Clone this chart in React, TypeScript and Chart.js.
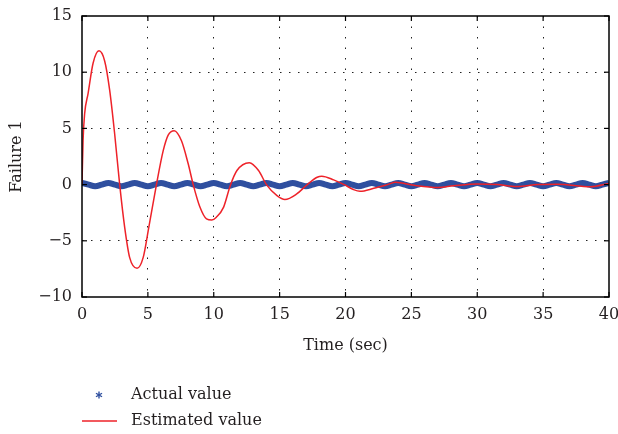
import { useEffect, useRef } from "react";
import { Chart, registerables } from "chart.js";

Chart.register(...registerables);

const FONT = "'DejaVu Serif', 'Liberation Serif', serif";
const TEXT_COLOR = "#231f20";
const RED = "#ee2229";
const BLUE = "#2f4f9f";

const xTitle = "Time (sec)";
const yTitle = "Failure 1";
const legendLabels = ["Actual value", "Estimated value"];

const xRange = [0, 40];
const yRange = [-10, 15];
const tickStep = 5;

// Actual value: small ripple around zero, sampled every 0.5 s
const actualTime = [
  0, 0.5, 1, 1.5, 2, 2.5, 3, 3.5, 4, 4.5, 5, 5.5, 6, 6.5, 7, 7.5, 8, 8.5, 9, 9.5,
  10, 10.5, 11, 11.5, 12, 12.5, 13, 13.5, 14, 14.5, 15, 15.5, 16, 16.5, 17, 17.5, 18, 18.5, 19, 19.5,
  20, 20.5, 21, 21.5, 22, 22.5, 23, 23.5, 24, 24.5, 25, 25.5, 26, 26.5, 27, 27.5, 28, 28.5, 29, 29.5,
  30, 30.5, 31, 31.5, 32, 32.5, 33, 33.5, 34, 34.5, 35, 35.5, 36, 36.5, 37, 37.5, 38, 38.5, 39, 39.5, 40,
];
const actualValue = [
  0.15, 0, -0.15, 0, 0.15, 0, -0.15, 0, 0.15, 0, -0.15, 0, 0.15, 0, -0.15, 0, 0.15, 0, -0.15, 0,
  0.15, 0, -0.15, 0, 0.15, 0, -0.15, 0, 0.15, 0, -0.15, 0, 0.15, 0, -0.15, 0, 0.15, 0, -0.15, 0,
  0.15, 0, -0.15, 0, 0.15, 0, -0.15, 0, 0.15, 0, -0.15, 0, 0.15, 0, -0.15, 0, 0.15, 0, -0.15, 0,
  0.15, 0, -0.15, 0, 0.15, 0, -0.15, 0, 0.15, 0, -0.15, 0, 0.15, 0, -0.15, 0, 0.15, 0, -0.15, 0, 0.15,
];

// Estimated value: damped oscillation converging to the actual value
const estimatedTime = [
  0, 0.08, 0.2, 0.46, 0.84, 1.29, 1.72, 2.1, 2.48, 2.86, 3.24, 3.62, 4.18, 4.64, 5.07, 5.65,
  6.16, 6.54, 7.0, 7.55, 8.06, 8.44, 8.95, 9.45, 9.85, 10.2, 10.75, 11.25, 11.76, 12.7, 13.4,
  14.0, 14.8, 15.4, 16.3, 17.1, 17.85, 18.2, 19.1, 19.9, 20.6, 21.1, 22.15, 23.2, 23.8, 25.2,
  27.0, 28.2, 30.0, 31.5, 33.0, 34.6, 36.1, 38.6, 40,
];
const estimatedValue = [
  0, 3.9, 6.3, 8.1, 10.8, 11.9, 11.0, 8.4, 4.5, 0, -3.8, -6.5, -7.45, -6.5, -3.8, 0,
  3.0, 4.4, 4.8, 3.9, 1.85, 0, -2.0, -3.05, -3.15, -2.9, -2.0, -0.1, 1.25, 1.95, 1.25,
  0, -0.98, -1.33, -0.83, 0, 0.65, 0.74, 0.42, 0, -0.44, -0.6, -0.33, 0, 0.2, -0.06,
  -0.25, -0.1, 0.06, 0, -0.18, 0, 0.03, -0.2, 0.1,
];

const formatTick = (v: number) => (v < 0 ? "\u2212" + Math.abs(v) : String(v));

// Frame, inward tick marks, axis titles and legend
const decorPlugin = {
  id: "decor",
  afterDraw(chart: any) {
    const { ctx, chartArea: a, scales } = chart;
    const xs = scales.x;
    const ys = scales.y;
    const line = (x1: number, y1: number, x2: number, y2: number) => {
      ctx.beginPath();
      ctx.moveTo(x1, y1);
      ctx.lineTo(x2, y2);
      ctx.stroke();
    };
    ctx.save();
    ctx.strokeStyle = "#000";
    ctx.lineWidth = 1.5;
    ctx.strokeRect(a.left, a.top, a.right - a.left, a.bottom - a.top);

    ctx.lineWidth = 1.2;
    const tl = 5;
    xs.ticks.forEach((t: any) => {
      const px = xs.getPixelForValue(t.value);
      line(px, a.bottom, px, a.bottom - tl);
      line(px, a.top, px, a.top + tl);
    });
    ys.ticks.forEach((t: any) => {
      const py = ys.getPixelForValue(t.value);
      line(a.left, py, a.left + tl, py);
      line(a.right, py, a.right - tl, py);
    });

    ctx.fillStyle = TEXT_COLOR;
    ctx.font = `16px ${FONT}`;
    ctx.textAlign = "center";
    ctx.textBaseline = "middle";
    ctx.fillText(xTitle, (a.left + a.right) / 2, a.bottom + 49);

    ctx.save();
    ctx.translate(17, (a.top + a.bottom) / 2);
    ctx.rotate(-Math.PI / 2);
    ctx.fillText(yTitle, 0, 0);
    ctx.restore();

    // legend
    const lx = a.left;
    const row1 = a.bottom + 98;
    const row2 = a.bottom + 124;
    ctx.strokeStyle = BLUE;
    ctx.lineWidth = 1.4;
    const sx = lx + 17;
    const r = 3.5;
    line(sx, row1 - r, sx, row1 + r);
    line(sx - r * 0.87, row1 - r * 0.5, sx + r * 0.87, row1 + r * 0.5);
    line(sx - r * 0.87, row1 + r * 0.5, sx + r * 0.87, row1 - r * 0.5);

    ctx.strokeStyle = RED;
    ctx.lineWidth = 1.5;
    line(lx, row2, lx + 35, row2);

    ctx.fillStyle = TEXT_COLOR;
    ctx.textAlign = "left";
    ctx.fillText(legendLabels[0], lx + 49, row1);
    ctx.fillText(legendLabels[1], lx + 49, row2);
    ctx.restore();
  },
};

export default function App() {
  const canvasRef = useRef<HTMLCanvasElement | null>(null);

  useEffect(() => {
    if (!canvasRef.current) return;
    const gridColor = (ctx: any) => {
      const v = ctx.tick?.value;
      const s = ctx.scale;
      return v === s.min || v === s.max ? "rgba(0,0,0,0)" : "#222";
    };
    const chart = new Chart(canvasRef.current, {
      type: "line",
      data: {
        datasets: [
          {
            label: legendLabels[1],
            data: estimatedTime.map((t, i) => ({ x: t, y: estimatedValue[i] })),
            borderColor: RED,
            borderWidth: 1.5,
            pointRadius: 0,
            cubicInterpolationMode: "monotone",
            order: 0,
          },
          {
            label: legendLabels[0],
            data: actualTime.map((t, i) => ({ x: t, y: actualValue[i] })),
            borderColor: BLUE,
            borderWidth: 6,
            pointRadius: 0,
            tension: 0.4,
            order: 1,
          },
        ],
      },
      options: {
        responsive: false,
        animation: false,
        events: [],
        layout: { padding: { top: 16, right: 9, left: 0, bottom: 0 } },
        plugins: { legend: { display: false }, tooltip: { enabled: false } },
        scales: {
          x: {
            type: "linear",
            min: xRange[0],
            max: xRange[1],
            afterFit: (s: any) => {
              s.height = 137;
              s.paddingLeft = 0;
              s.paddingRight = 0;
            },
            ticks: {
              stepSize: tickStep,
              padding: 8,
              maxRotation: 0,
              color: TEXT_COLOR,
              font: { family: FONT, size: 16 },
              callback: (v: any) => formatTick(Number(v)),
            },
            grid: { drawTicks: false, color: gridColor, lineWidth: 1 },
            border: { display: false, dash: [1.5, 9] },
          },
          y: {
            type: "linear",
            min: yRange[0],
            max: yRange[1],
            afterFit: (s: any) => {
              s.width = 82;
              s.paddingTop = 0;
              s.paddingBottom = 0;
            },
            ticks: {
              stepSize: tickStep,
              padding: 10,
              color: TEXT_COLOR,
              font: { family: FONT, size: 16 },
              callback: (v: any) => formatTick(Number(v)),
            },
            grid: { drawTicks: false, color: gridColor, lineWidth: 1 },
            border: { display: false, dash: [1.5, 7.5] },
          },
        },
      },
      plugins: [decorPlugin],
    });
    return () => chart.destroy();
  }, []);

  return (
    <div style={{ position: "fixed", left: 0, top: 0, width: 618, height: 434, background: "#fff" }}>
      <canvas ref={canvasRef} width={618} height={434} style={{ display: "block" }} />
    </div>
  );
}
